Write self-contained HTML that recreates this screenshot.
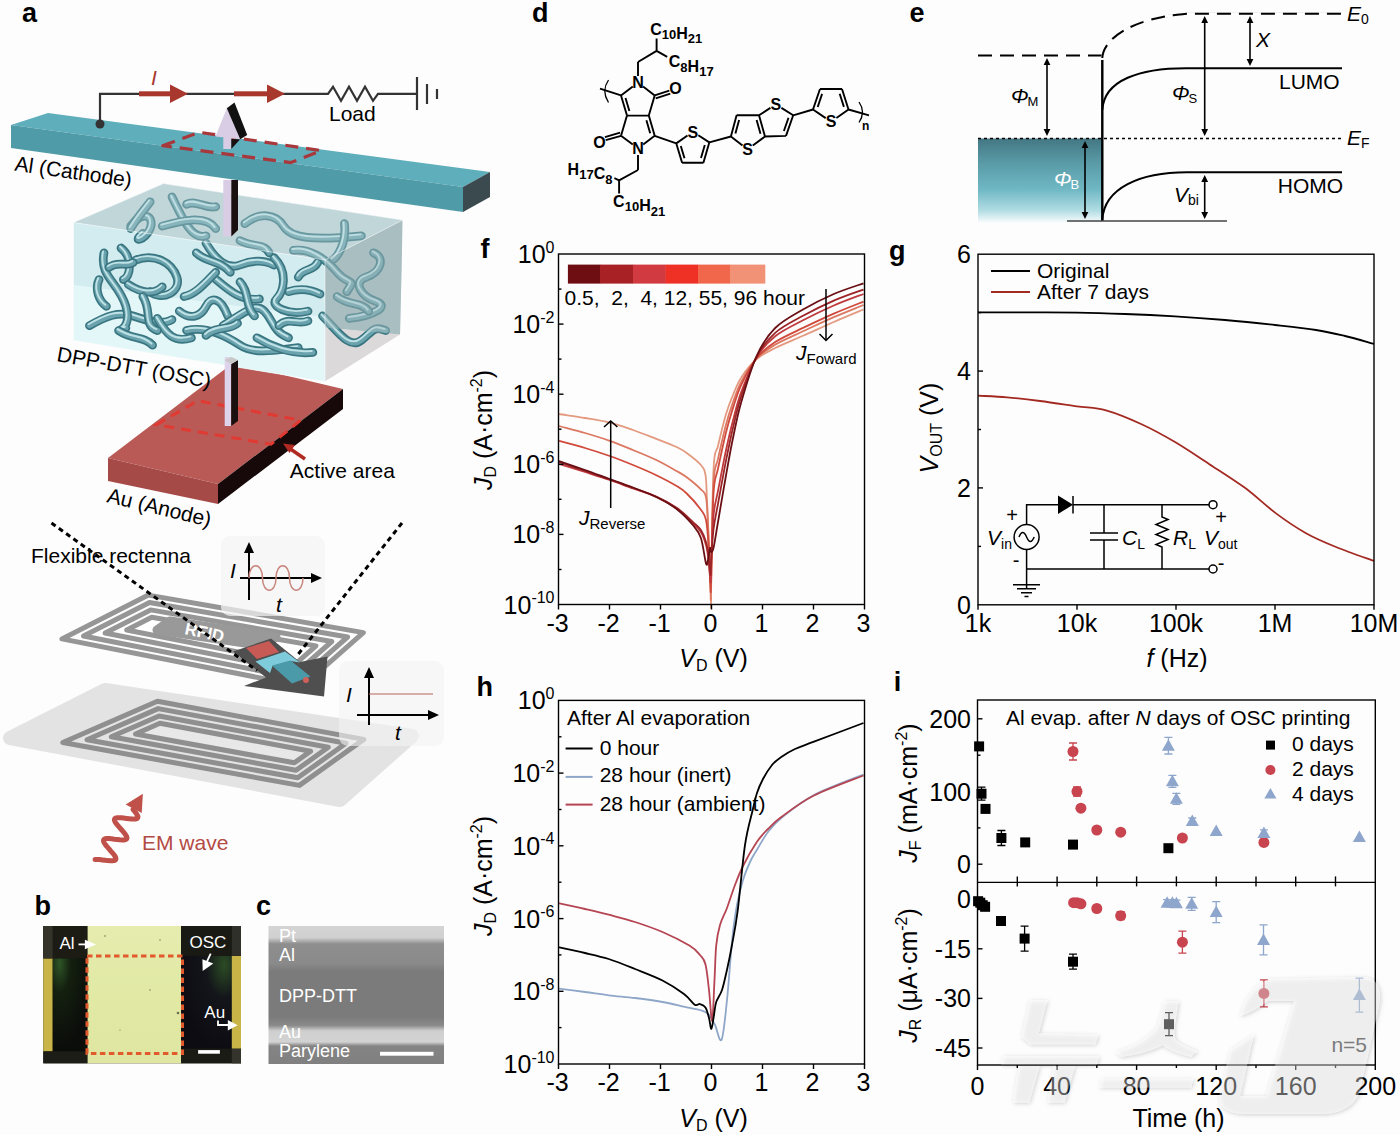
<!DOCTYPE html>
<html><head><meta charset="utf-8"><style>
html,body{margin:0;padding:0;background:#fff;width:1400px;height:1135px;overflow:hidden}
svg{display:block}
</style></head><body>
<svg width="1400" height="1135" viewBox="0 0 1400 1135" font-family='"Liberation Sans", sans-serif'>
<rect width="1400" height="1135" fill="#fdfdfd"/>
<g id="a">
<polygon points="48,113 490,172 463,187 11,125" fill="#5eaebb"/>
<polygon points="11,125 463,187 463,212 11,148" fill="#4f9ba8"/>
<polygon points="463,187 490,172 490,197 463,212" fill="#3b4a4f"/>
<polygon points="162.7,145.7 199.3,132.3 321.2,150.6 291,162.6" fill="none" stroke="#a8383c" stroke-width="3.2" stroke-dasharray="13,8" stroke-linejoin="round"/>
<g stroke="#333" stroke-width="2.2" fill="none">
<path d="M100,124 V93.8 H328 l5,-7 l8,14 l8,-14 l8,14 l8,-14 l8,14 l5,-7 H417"/>
<path d="M417,77 V110 M427,84 V104 M437,89 V99"/>
</g>
<circle cx="100" cy="124" r="4.5" fill="#333"/>
<g fill="#a8382e">
<rect x="139" y="91.3" width="32" height="5"/><polygon points="170,84.5 188,93.8 170,103"/>
<rect x="234" y="91.3" width="34" height="5"/><polygon points="267,84.5 285,93.8 267,103"/>
</g>
<text x="151" y="85" font-size="21" font-style="italic" fill="#a8382e">I</text>
<text x="329" y="121" font-size="21">Load</text>
<polygon points="108,458 233,363 343,389 218,484" fill="#b95a56"/>
<polygon points="108,458 218,484 218,504 108,481" fill="#a64a48"/>
<polygon points="218,484 343,389 343,409 218,504" fill="#170909"/>
<polygon points="156.4,424.7 197.6,400.7 300.7,420.2 271,444.2" fill="none" stroke="#e03a32" stroke-width="3" stroke-dasharray="10,7"/>
<line x1="305" y1="459" x2="289" y2="448" stroke="#b02a22" stroke-width="3.5"/><polygon points="283,443.5 295,445 289.5,453" fill="#b02a22"/>
<text x="289.8" y="477.5" font-size="21">Active area</text>
<polygon points="73.6,222.5 163.5,183.6 402.7,220 325,260" fill="#c0d6d9"/>
<polygon points="325,260 402.7,220 400,334.6 325,327.6" fill="#a9bec2"/><polygon points="325,327.6 400,334.6 325,381.6" fill="#dcd9db"/>
<polygon points="73.6,222.5 325,260 325,381.6 73.6,340.3" fill="#d2ecef"/>
<polygon points="73.6,285 325,317 325,381.6 73.6,340.3" fill="#e3f7f8"/>
<g transform="translate(70,180) scale(0.24284)" fill="none" stroke-linecap="round">
<path d="M80,600 C150,560 200,540 260,560 S380,600 420,575" stroke="#3a7681" stroke-width="36"/>
<path d="M80,600 C150,560 200,540 260,560 S380,600 420,575" stroke="#6aa3ad" stroke-width="22"/>
<path d="M80,600 C150,560 200,540 260,560 S380,600 420,575" stroke="#bfe2e7" stroke-width="8" transform="translate(-4,-6)"/>
<path d="M140,300 C120,400 200,420 230,520 S180,620 230,610" stroke="#3a7681" stroke-width="36"/>
<path d="M140,300 C120,400 200,420 230,520 S180,620 230,610" stroke="#6aa3ad" stroke-width="22"/>
<path d="M140,300 C120,400 200,420 230,520 S180,620 230,610" stroke="#bfe2e7" stroke-width="8" transform="translate(-4,-6)"/>
<path d="M210,280 C260,320 250,400 220,410" stroke="#3a7681" stroke-width="36"/>
<path d="M210,280 C260,320 250,400 220,410" stroke="#6aa3ad" stroke-width="22"/>
<path d="M210,280 C260,320 250,400 220,410" stroke="#bfe2e7" stroke-width="8" transform="translate(-4,-6)"/>
<path d="M270,330 C350,300 420,340 440,400 S380,500 330,460" stroke="#3a7681" stroke-width="36"/>
<path d="M270,330 C350,300 420,340 440,400 S380,500 330,460" stroke="#6aa3ad" stroke-width="22"/>
<path d="M270,330 C350,300 420,340 440,400 S380,500 330,460" stroke="#bfe2e7" stroke-width="8" transform="translate(-4,-6)"/>
<path d="M250,190 C300,120 350,150 330,200 S250,260 300,220" stroke="#3a7681" stroke-width="36"/>
<path d="M250,190 C300,120 350,150 330,200 S250,260 300,220" stroke="#6aa3ad" stroke-width="22"/>
<path d="M250,190 C300,120 350,150 330,200 S250,260 300,220" stroke="#bfe2e7" stroke-width="8" transform="translate(-4,-6)"/>
<path d="M420,70 C460,150 500,250 560,230" stroke="#3a7681" stroke-width="36"/>
<path d="M420,70 C460,150 500,250 560,230" stroke="#6aa3ad" stroke-width="22"/>
<path d="M420,70 C460,150 500,250 560,230" stroke="#bfe2e7" stroke-width="8" transform="translate(-4,-6)"/>
<path d="M380,190 C450,170 560,140 600,200" stroke="#3a7681" stroke-width="36"/>
<path d="M380,190 C450,170 560,140 600,200" stroke="#6aa3ad" stroke-width="22"/>
<path d="M380,190 C450,170 560,140 600,200" stroke="#bfe2e7" stroke-width="8" transform="translate(-4,-6)"/>
<path d="M560,260 C600,330 650,370 700,350 S800,330 840,350" stroke="#3a7681" stroke-width="36"/>
<path d="M560,260 C600,330 650,370 700,350 S800,330 840,350" stroke="#6aa3ad" stroke-width="22"/>
<path d="M560,260 C600,330 650,370 700,350 S800,330 840,350" stroke="#bfe2e7" stroke-width="8" transform="translate(-4,-6)"/>
<path d="M590,400 C650,450 700,500 780,490" stroke="#3a7681" stroke-width="36"/>
<path d="M590,400 C650,450 700,500 780,490" stroke="#6aa3ad" stroke-width="22"/>
<path d="M590,400 C650,450 700,500 780,490" stroke="#bfe2e7" stroke-width="8" transform="translate(-4,-6)"/>
<path d="M450,540 C500,580 540,560 560,520 S620,480 650,560" stroke="#3a7681" stroke-width="36"/>
<path d="M450,540 C500,580 540,560 560,520 S620,480 650,560" stroke="#6aa3ad" stroke-width="22"/>
<path d="M450,540 C500,580 540,560 560,520 S620,480 650,560" stroke="#bfe2e7" stroke-width="8" transform="translate(-4,-6)"/>
<path d="M480,620 C560,600 640,640 700,680 S850,700 940,690" stroke="#3a7681" stroke-width="36"/>
<path d="M480,620 C560,600 640,640 700,680 S850,700 940,690" stroke="#6aa3ad" stroke-width="22"/>
<path d="M480,620 C560,600 640,640 700,680 S850,700 940,690" stroke="#bfe2e7" stroke-width="8" transform="translate(-4,-6)"/>
<path d="M630,600 C700,560 760,500 800,540 S830,620 900,650" stroke="#3a7681" stroke-width="36"/>
<path d="M630,600 C700,560 760,500 800,540 S830,620 900,650" stroke="#6aa3ad" stroke-width="22"/>
<path d="M630,600 C700,560 760,500 800,540 S830,620 900,650" stroke="#bfe2e7" stroke-width="8" transform="translate(-4,-6)"/>
<path d="M840,320 C900,380 880,460 850,490 S900,560 980,540" stroke="#3a7681" stroke-width="36"/>
<path d="M840,320 C900,380 880,460 850,490 S900,560 980,540" stroke="#6aa3ad" stroke-width="22"/>
<path d="M840,320 C900,380 880,460 850,490 S900,560 980,540" stroke="#bfe2e7" stroke-width="8" transform="translate(-4,-6)"/>
<path d="M900,460 C960,440 1010,460 1030,470" stroke="#3a7681" stroke-width="36"/>
<path d="M900,460 C960,440 1010,460 1030,470" stroke="#6aa3ad" stroke-width="22"/>
<path d="M900,460 C960,440 1010,460 1030,470" stroke="#bfe2e7" stroke-width="8" transform="translate(-4,-6)"/>
<path d="M720,180 C780,130 850,140 880,190 S1000,250 1200,230" stroke="#3a7681" stroke-width="36"/>
<path d="M720,180 C780,130 850,140 880,190 S1000,250 1200,230" stroke="#6aa3ad" stroke-width="22"/>
<path d="M720,180 C780,130 850,140 880,190 S1000,250 1200,230" stroke="#bfe2e7" stroke-width="8" transform="translate(-4,-6)"/>
<path d="M1130,180 C1140,260 1100,320 1080,330" stroke="#3a7681" stroke-width="36"/>
<path d="M1130,180 C1140,260 1100,320 1080,330" stroke="#6aa3ad" stroke-width="22"/>
<path d="M1130,180 C1140,260 1100,320 1080,330" stroke="#bfe2e7" stroke-width="8" transform="translate(-4,-6)"/>
<path d="M920,290 C980,280 1050,320 1100,380 S1180,400 1140,460" stroke="#3a7681" stroke-width="36"/>
<path d="M920,290 C980,280 1050,320 1100,380 S1180,400 1140,460" stroke="#6aa3ad" stroke-width="22"/>
<path d="M920,290 C980,280 1050,320 1100,380 S1180,400 1140,460" stroke="#bfe2e7" stroke-width="8" transform="translate(-4,-6)"/>
<path d="M1250,300 C1300,320 1280,380 1220,400 S1200,480 1260,500 S1250,560 1150,570" stroke="#3a7681" stroke-width="36"/>
<path d="M1250,300 C1300,320 1280,380 1220,400 S1200,480 1260,500 S1250,560 1150,570" stroke="#6aa3ad" stroke-width="22"/>
<path d="M1250,300 C1300,320 1280,380 1220,400 S1200,480 1260,500 S1250,560 1150,570" stroke="#bfe2e7" stroke-width="8" transform="translate(-4,-6)"/>
<path d="M1040,560 C1100,620 1150,700 1200,660 S1250,600 1300,620" stroke="#3a7681" stroke-width="36"/>
<path d="M1040,560 C1100,620 1150,700 1200,660 S1250,600 1300,620" stroke="#6aa3ad" stroke-width="22"/>
<path d="M1040,560 C1100,620 1150,700 1200,660 S1250,600 1300,620" stroke="#bfe2e7" stroke-width="8" transform="translate(-4,-6)"/>
<path d="M770,650 C820,680 900,720 1000,710" stroke="#3a7681" stroke-width="36"/>
<path d="M770,650 C820,680 900,720 1000,710" stroke="#6aa3ad" stroke-width="22"/>
<path d="M770,650 C820,680 900,720 1000,710" stroke="#bfe2e7" stroke-width="8" transform="translate(-4,-6)"/>
<path d="M120,410 C100,450 120,500 150,520" stroke="#3a7681" stroke-width="36"/>
<path d="M120,410 C100,450 120,500 150,520" stroke="#6aa3ad" stroke-width="22"/>
<path d="M120,410 C100,450 120,500 150,520" stroke="#bfe2e7" stroke-width="8" transform="translate(-4,-6)"/>
<path d="M330,90 C300,130 280,150 250,200" stroke="#3a7681" stroke-width="36"/>
<path d="M330,90 C300,130 280,150 250,200" stroke="#6aa3ad" stroke-width="22"/>
<path d="M330,90 C300,130 280,150 250,200" stroke="#bfe2e7" stroke-width="8" transform="translate(-4,-6)"/>
<path d="M240,430 C300,470 350,470 380,440" stroke="#3a7681" stroke-width="36"/>
<path d="M240,430 C300,470 350,470 380,440" stroke="#6aa3ad" stroke-width="22"/>
<path d="M240,430 C300,470 350,470 380,440" stroke="#bfe2e7" stroke-width="8" transform="translate(-4,-6)"/>
<path d="M360,570 C400,640 430,670 500,650" stroke="#3a7681" stroke-width="36"/>
<path d="M360,570 C400,640 430,670 500,650" stroke="#6aa3ad" stroke-width="22"/>
<path d="M360,570 C400,640 430,670 500,650" stroke="#bfe2e7" stroke-width="8" transform="translate(-4,-6)"/>
<path d="M600,380 C560,420 520,470 470,480" stroke="#3a7681" stroke-width="36"/>
<path d="M600,380 C560,420 520,470 470,480" stroke="#6aa3ad" stroke-width="22"/>
<path d="M600,380 C560,420 520,470 470,480" stroke="#bfe2e7" stroke-width="8" transform="translate(-4,-6)"/>
<path d="M700,250 C760,280 800,260 820,300" stroke="#3a7681" stroke-width="36"/>
<path d="M700,250 C760,280 800,260 820,300" stroke="#6aa3ad" stroke-width="22"/>
<path d="M700,250 C760,280 800,260 820,300" stroke="#bfe2e7" stroke-width="8" transform="translate(-4,-6)"/>
<path d="M300,480 C340,540 300,600 360,620" stroke="#3a7681" stroke-width="36"/>
<path d="M300,480 C340,540 300,600 360,620" stroke="#6aa3ad" stroke-width="22"/>
<path d="M300,480 C340,540 300,600 360,620" stroke="#bfe2e7" stroke-width="8" transform="translate(-4,-6)"/>
<path d="M520,300 C560,340 620,330 660,380" stroke="#3a7681" stroke-width="36"/>
<path d="M520,300 C560,340 620,330 660,380" stroke="#6aa3ad" stroke-width="22"/>
<path d="M520,300 C560,340 620,330 660,380" stroke="#bfe2e7" stroke-width="8" transform="translate(-4,-6)"/>
<path d="M700,420 C740,460 720,520 760,560" stroke="#3a7681" stroke-width="36"/>
<path d="M700,420 C740,460 720,520 760,560" stroke="#6aa3ad" stroke-width="22"/>
<path d="M700,420 C740,460 720,520 760,560" stroke="#bfe2e7" stroke-width="8" transform="translate(-4,-6)"/>
<path d="M160,360 C200,330 230,360 260,340" stroke="#3a7681" stroke-width="36"/>
<path d="M160,360 C200,330 230,360 260,340" stroke="#6aa3ad" stroke-width="22"/>
<path d="M160,360 C200,330 230,360 260,340" stroke="#bfe2e7" stroke-width="8" transform="translate(-4,-6)"/>
<path d="M940,400 C960,360 1000,380 1020,340" stroke="#3a7681" stroke-width="36"/>
<path d="M940,400 C960,360 1000,380 1020,340" stroke="#6aa3ad" stroke-width="22"/>
<path d="M940,400 C960,360 1000,380 1020,340" stroke="#bfe2e7" stroke-width="8" transform="translate(-4,-6)"/>
<path d="M1100,480 C1150,520 1200,500 1230,540" stroke="#3a7681" stroke-width="36"/>
<path d="M1100,480 C1150,520 1200,500 1230,540" stroke="#6aa3ad" stroke-width="22"/>
<path d="M1100,480 C1150,520 1200,500 1230,540" stroke="#bfe2e7" stroke-width="8" transform="translate(-4,-6)"/>
<path d="M560,640 C600,600 660,620 690,590" stroke="#3a7681" stroke-width="36"/>
<path d="M560,640 C600,600 660,620 690,590" stroke="#6aa3ad" stroke-width="22"/>
<path d="M560,640 C600,600 660,620 690,590" stroke="#bfe2e7" stroke-width="8" transform="translate(-4,-6)"/>
<path d="M200,620 C260,660 300,640 340,680" stroke="#3a7681" stroke-width="36"/>
<path d="M200,620 C260,660 300,640 340,680" stroke="#6aa3ad" stroke-width="22"/>
<path d="M200,620 C260,660 300,640 340,680" stroke="#bfe2e7" stroke-width="8" transform="translate(-4,-6)"/>
<path d="M860,600 C900,560 940,600 980,580" stroke="#3a7681" stroke-width="36"/>
<path d="M860,600 C900,560 940,600 980,580" stroke="#6aa3ad" stroke-width="22"/>
<path d="M860,600 C900,560 940,600 980,580" stroke="#bfe2e7" stroke-width="8" transform="translate(-4,-6)"/>
<path d="M480,100 C520,80 560,120 600,110" stroke="#3a7681" stroke-width="36"/>
<path d="M480,100 C520,80 560,120 600,110" stroke="#6aa3ad" stroke-width="22"/>
<path d="M480,100 C520,80 560,120 600,110" stroke="#bfe2e7" stroke-width="8" transform="translate(-4,-6)"/>
</g>
<polygon points="73.6,222.5 163.5,183.6 402.7,220 325,260" fill="#c0d6d9" fill-opacity="0.35"/>
<polygon points="325,260 402.7,220 400,334.6 325,327.6" fill="#a9bec2" fill-opacity="0.45"/>
<g stroke="#ffffff" stroke-opacity="0.5" stroke-width="1" fill="none"><polyline points="73.6,340.3 73.6,222.5 163.5,183.6 402.7,220 402.7,339 325,381.6 73.6,340.3"/><polyline points="73.6,222.5 325,260 402.7,220 M325,260"/><line x1="325" y1="260" x2="325" y2="381.6"/></g>
<rect x="223.3" y="180" width="8" height="56.5" fill="#d9cde6"/>
<polygon points="231.3,180 238,180 238,230 231.3,236.5" fill="#1a1010"/>
<rect x="223.3" y="136" width="8" height="13" fill="#d9cde6"/>
<polygon points="231.3,139 240.2,139.3 231.3,149" fill="#1a1010"/>
<polygon points="226.8,108.3 215.5,136.5 240.2,139.3" fill="#d9cde6"/>
<polygon points="226.8,108.3 234.5,102.4 247.2,135 240.2,139.3" fill="#111"/>
<rect x="224.7" y="357" width="6.5" height="69" fill="#ddd3ea"/>
<polygon points="231.2,364 238,360 238,421 231.2,426" fill="#1a1010"/>
<polygon points="224.7,360 231.2,364 238,360 231.5,357" fill="#c8c8c8"/>
<text transform="translate(14,170.5) rotate(8.2)" font-size="21">Al (Cathode)</text>
<text transform="translate(56,361) rotate(10)" font-size="21">DPP-DTT (OSC)</text>
<text transform="translate(106,502) rotate(13.5)" font-size="21">Au (Anode)</text>
<polygon points="10,738 105,690 412,736 340,800" fill="#e3e3e3" stroke="#e3e3e3" stroke-width="14" stroke-linejoin="round"/>
<polygon points="144,733 160.2,725.9 304.3,752.6 293.8,760.1" fill="#e8e8e8"/>
<polygon points="62.8,742.5 157.4,701.2 363.8,739.4 299.4,785.4" fill="none" stroke="#8f8f8f" stroke-width="5.0" stroke-linejoin="round"/>
<polygon points="87,739.7 158.2,708.6 346,743.3 297.7,777.8" fill="none" stroke="#8f8f8f" stroke-width="5.0" stroke-linejoin="round"/>
<polygon points="111.3,736.8 159.1,716 328.3,747.3 296,770.3" fill="none" stroke="#8f8f8f" stroke-width="5.0" stroke-linejoin="round"/>
<polygon points="135.5,734 159.9,723.3 310.6,751.2 294.3,762.8" fill="none" stroke="#8f8f8f" stroke-width="5.0" stroke-linejoin="round"/>
<polygon points="134.3,628.9 152.1,619.9 310.4,647.5 295.4,660.7" fill="#ffffff"/>
<polygon points="61.9,638.9 148.4,595.1 363.4,632.6 302.3,686.3" fill="none" stroke="#969696" stroke-width="5.0" stroke-linejoin="round"/>
<polygon points="83.5,636 149.5,602.5 347.6,637 300.2,678.7" fill="none" stroke="#969696" stroke-width="5.0" stroke-linejoin="round"/>
<polygon points="105.1,633 150.6,609.9 331.8,641.5 298.2,671" fill="none" stroke="#969696" stroke-width="5.0" stroke-linejoin="round"/>
<polygon points="126.7,630 151.7,617.3 316,645.9 296.1,663.4" fill="none" stroke="#969696" stroke-width="5.0" stroke-linejoin="round"/>
<polygon points="157,630 170,621 276,637 264,646" fill="#999999" stroke="#999999" stroke-width="9" stroke-linejoin="round"/>
<text transform="translate(184,634) rotate(12)" font-size="17" font-weight="bold" fill="#fff">RFID</text>
<polygon points="233,651.5 271,638.5 300,662 327.5,656.5 324,696.5 244,686 266,677.5" fill="#4f4f4f"/>
<polygon points="246,648 269,641 279,652 257,659" fill="#c85a55"/>
<polygon points="255.5,661.5 285,651.5 300,662.5 290.5,661 272.5,666 270,673" fill="#7ecbdb"/>
<polygon points="272,665.5 290.5,660.5 310.5,676.5 292,683.5" fill="#4b9aaa"/>
<circle cx="306" cy="680" r="3" fill="#d0605a"/>
<g stroke="#000" stroke-width="3" stroke-dasharray="5,4" fill="none"><line x1="51.5" y1="523" x2="257" y2="670.5"/><line x1="402" y1="523" x2="296" y2="657"/></g>
<text x="31" y="563" font-size="21">Flexible rectenna</text>
<rect x="221" y="536" width="104" height="80" rx="9" fill="#f3f3f3" fill-opacity="0.7"/>
<g stroke="#000" stroke-width="2" fill="none"><line x1="249" y1="547" x2="249" y2="600"/><line x1="240" y1="578" x2="316" y2="578"/></g>
<polygon points="249,542 244,553 254,553" fill="#000"/><polygon points="322,578 311,573 311,583" fill="#000"/>
<path d="M249,578 C249,561.6 262.5,561.6 262.5,578 C262.5,594.4 276,594.4 276,578 C276,561.6 289.5,561.6 289.5,578 C289.5,594.4 303,594.4 303,578" stroke="#c8857c" stroke-width="1.5" fill="none"/>
<text x="230" y="578" font-size="21" font-style="italic">I</text><text x="276" y="612" font-size="21" font-style="italic">t</text>
<rect x="339" y="661" width="105" height="85" rx="9" fill="#f3f3f3" fill-opacity="0.6"/>
<g stroke="#000" stroke-width="2" fill="none"><line x1="369" y1="672" x2="369" y2="725"/><line x1="357" y1="715" x2="433" y2="715"/></g>
<polygon points="369,667 364,678 374,678 " fill="#000"/><polygon points="439,715 428,710 428,720" fill="#000"/>
<line x1="369" y1="694" x2="433" y2="694" stroke="#b8625c" stroke-width="1.2"/>
<text x="346" y="702" font-size="21" font-style="italic">I</text><text x="395" y="740" font-size="21" font-style="italic">t</text>
<path d="M95.1,859.5 L97.1,859.5 L99.6,859.6 L102.2,859.9 L105.1,860.2 L107.8,860.6 L110.4,860.8 L112.6,860.8 L114.3,860.6 L115.4,860.0 L115.9,859.2 L115.8,858.0 L115.2,856.5 L114.0,854.8 L112.4,852.8 L110.6,850.8 L108.8,848.6 L107.0,846.6 L105.4,844.6 L104.2,842.9 L103.6,841.4 L103.5,840.2 L104.0,839.4 L105.1,838.8 L106.8,838.6 L109.0,838.6 L111.6,838.8 L114.3,839.2 L117.2,839.5 L119.8,839.8 L122.3,839.9 L124.3,839.9 L125.8,839.5 L126.7,838.9 L127.0,837.9 L126.6,836.6 L125.7,835.0 L124.4,833.1 L122.7,831.1 L120.9,829.0 L119.0,826.9 L117.3,824.9 L115.8,823.0 L114.9,821.4 L114.4,820.0 L114.6,818.9 L115.3,818.2 L116.7,817.8 L118.6,817.7 L121.0,817.8 L123.6,818.1 L126.4,818.4 L129.2,818.7 L131.8,819.0 L134.1,819.0 L135.9,818.9 L137.2,818.4 L137.8,817.6 L137.9,816.5 L137.3,815.1 L136.2,813.4 L134.7,811.5 L133.0,809.4 L136.5,806.0" stroke="#c0504a" stroke-width="5" fill="none" stroke-linecap="round" stroke-linejoin="round"/>
<polygon points="125.7,804.6 142.9,793.7 141.7,813" fill="#c0504a"/>
<text x="142" y="849.5" font-size="21" fill="#b44a44">EM wave</text>
</g>
<g id="b">
<defs>
<radialGradient id="bdarkL" cx="0.2" cy="0.05" r="0.9"><stop offset="0" stop-color="#2f5527"/><stop offset="0.35" stop-color="#14200f"/><stop offset="1" stop-color="#0b0d0a"/></radialGradient>
<radialGradient id="bdarkR" cx="0.85" cy="0.1" r="0.9"><stop offset="0" stop-color="#2c4c25"/><stop offset="0.4" stop-color="#13151a"/><stop offset="1" stop-color="#0d0c12"/></radialGradient>
<linearGradient id="byel" x1="0" y1="0" x2="0" y2="1"><stop offset="0" stop-color="#e6ecae"/><stop offset="0.5" stop-color="#e1e9a5"/><stop offset="1" stop-color="#dfe6a2"/></linearGradient>
<linearGradient id="cgrad" x1="0" y1="0" x2="0" y2="1">
<stop offset="0" stop-color="#d4d4d4"/><stop offset="0.085" stop-color="#d0d0d0"/><stop offset="0.13" stop-color="#8e8e8e"/><stop offset="0.27" stop-color="#8a8a8a"/>
<stop offset="0.33" stop-color="#7b7b7b"/><stop offset="0.66" stop-color="#7b7b7b"/><stop offset="0.72" stop-color="#8a8a8a"/><stop offset="0.76" stop-color="#cfcfcf"/>
<stop offset="0.84" stop-color="#d3d3d3"/><stop offset="0.87" stop-color="#848484"/><stop offset="1" stop-color="#808080"/></linearGradient>
</defs>
<rect x="43.3" y="926" width="197.7" height="137.3" fill="#14150f"/>
<rect x="52.5" y="958.3" width="35.1" height="93.1" fill="url(#bdarkL)"/>
<rect x="181" y="955.7" width="50.8" height="93.1" fill="url(#bdarkR)"/>
<rect x="43.3" y="958.3" width="9.2" height="93.1" fill="#c9b547"/>
<rect x="231.8" y="955.7" width="9.2" height="93.1" fill="#c9b547"/>
<rect x="43.3" y="926" width="44.3" height="32.3" fill="#1c1c15"/>
<rect x="43.3" y="926" width="9.2" height="32.3" fill="#34342a"/>
<rect x="181" y="926" width="60" height="29.7" fill="#1a1a14"/>
<rect x="231.8" y="926" width="9.2" height="29.7" fill="#30302a"/>
<rect x="43.3" y="1051.4" width="44.3" height="11.9" fill="#1d1d17"/>
<rect x="181" y="1048.8" width="60" height="14.5" fill="#1b1b16"/>
<rect x="231.8" y="1048.8" width="9.2" height="14.5" fill="#34342c"/>
<rect x="87.6" y="926" width="93.4" height="137.3" fill="url(#byel)"/>
<g fill="#3a3a2a" opacity="0.7"><circle cx="105" cy="936" r="0.8"/><circle cx="150" cy="990" r="0.7"/><circle cx="178" cy="1013" r="1.3"/><circle cx="120" cy="1030" r="0.6"/><circle cx="160" cy="940" r="0.7"/></g>
<rect x="87" y="956" width="95.5" height="97.4" fill="none" stroke="#e25a2c" stroke-width="3" stroke-dasharray="5.5,3.5"/>
<text x="59.5" y="949" font-size="17" fill="#fff">Al</text>
<line x1="78.5" y1="944.4" x2="86" y2="944.4" stroke="#fff" stroke-width="1.8"/><polygon points="84.9,939.8 96.1,944.4 84.9,949.2" fill="#fff"/>
<text x="189.5" y="948.4" font-size="17" fill="#fff">OSC</text>
<line x1="210.7" y1="953.7" x2="206" y2="963.6" stroke="#fff" stroke-width="1.8"/><polygon points="202.7,970.9 202.4,959.2 213.3,963.6" fill="#fff"/>
<text x="204.3" y="1017.8" font-size="17" fill="#fff">Au</text>
<path d="M218,1020.5 V1025 H228.5" stroke="#fff" stroke-width="1.8" fill="none"/><polygon points="227.8,1020 237.7,1025.3 227.8,1030.6" fill="#fff"/>
<rect x="198.1" y="1050.1" width="21.8" height="3.6" fill="#fff"/>
<rect x="268.5" y="926" width="175.5" height="138" fill="url(#cgrad)"/>
<text x="279" y="941.5" font-size="18" fill="#fff">Pt</text>
<text x="279" y="961" font-size="18" fill="#fff">Al</text>
<text x="279" y="1001.5" font-size="18" fill="#fff">DPP-DTT</text>
<text x="279" y="1038" font-size="18" fill="#fff">Au</text>
<text x="279" y="1057" font-size="18" fill="#fff">Parylene</text>
<rect x="380" y="1051.8" width="53.5" height="3.9" fill="#fff"/>
</g>
<g id="d" stroke="#000" stroke-width="1.9" fill="none" stroke-linecap="butt">
<path d="M621,95.4 L632.8,86.4 M643.1,86.5 L654.7,95.4 M654.7,95.4 L648.8,115.6 M627,115.6 L648.8,115.6 M627,115.6 L621,135.8 M621,135.8 L632.8,144.6 M643.2,144.6 L654.7,135.8 M621,95.4 L627,115.6 M648.8,115.6 L654.7,135.8 M654.7,95.4 L669.3,90.6 M621,135.8 L605.7,140.2 M638,76 L638,62 M638,62 L656.6,50.9 M656.6,50.9 L656.6,38.5 M656.6,50.9 L667.2,56.8 M638,155 L638,170 M638,170 L619.1,180.3 M619.1,180.3 L619.1,193.5 M619.1,180.3 L614.4,178.2 M654.7,135.8 L676.3,143.4 M676.3,143.4 L687.5,135.5 M698.3,135.3 L709.3,142.4 M709.3,142.4 L703.4,162.8 M703.4,162.8 L682.1,162.8 M682.1,162.8 L676.3,143.4 M709.3,142.4 L730.9,136.5 M730.9,136.5 L742.5,145.4 M752.8,145.5 L765,136.5 M765,136.5 L759,115.3 M759,115.3 L736.6,115.3 M736.6,115.3 L730.9,136.5 M759,115.3 L770.4,107.9 M781.4,107.9 L793.2,115.3 M793.2,115.3 L786,135.9 M786,135.9 L765,136.5 M793.2,115.3 L813,109.5 M813,109.5 L820,89 M820,89 L842,89 M842,89 L848.5,109.5 M848.5,109.5 L836.4,118 M825.7,118.1 L813,109.5 M848.5,109.5 L869,115.3 M600,88.6 L621,95.4 M625.5,98 L629.4,110.9 M646.4,120.2 L650.2,133.2 M680.8,145.9 L684.5,158.3 M701,158.1 L704.8,145.1 M735.4,133.6 L739.1,120.1 M756.6,120.1 L760.5,133.7 M788.5,117.8 L783.9,131 M817.7,107 L822.1,93.9 M839.7,93.8 L843.9,106.9 M655.7,98.4 L670.3,93.7 M620.1,132.7 L604.9,137.1"/>
<path d="M608.5,80 Q601,91 608.5,102.5" stroke-width="1.3"/>
<path d="M859,102 Q866,112 859,122.5" stroke-width="1.3"/>
</g>
<text x="638" y="88.2" font-size="16" font-weight="bold" text-anchor="middle">N</text>
<text x="638" y="154.2" font-size="16" font-weight="bold" text-anchor="middle">N</text>
<text x="675.5" y="94.3" font-size="16" font-weight="bold" text-anchor="middle">O</text>
<text x="599.5" y="147.7" font-size="16" font-weight="bold" text-anchor="middle">O</text>
<text x="692.8" y="137.5" font-size="16" font-weight="bold" text-anchor="middle">S</text>
<text x="747.6" y="155.1" font-size="16" font-weight="bold" text-anchor="middle">S</text>
<text x="775.9" y="110.1" font-size="16" font-weight="bold" text-anchor="middle">S</text>
<text x="831.1" y="127.4" font-size="16" font-weight="bold" text-anchor="middle">S</text>
<text x="650.2" y="34.6" font-size="16" font-weight="bold"><tspan>C</tspan><tspan font-size="13" dy="4.3">10</tspan><tspan dy="-4.3"></tspan><tspan>H</tspan><tspan font-size="13" dy="4.3">21</tspan><tspan dy="-4.3"></tspan></text>
<text x="668.8" y="67.4" font-size="16" font-weight="bold"><tspan>C</tspan><tspan font-size="13" dy="4.3">8</tspan><tspan dy="-4.3"></tspan><tspan>H</tspan><tspan font-size="13" dy="4.3">17</tspan><tspan dy="-4.3"></tspan></text>
<text x="567.6" y="175.1" font-size="16" font-weight="bold"><tspan>H</tspan><tspan font-size="13" dy="4.3">17</tspan><tspan dy="-4.3"></tspan><tspan>C</tspan><tspan font-size="13" dy="4.3">8</tspan><tspan dy="-4.3"></tspan></text>
<text x="613.1" y="206.9" font-size="16" font-weight="bold"><tspan>C</tspan><tspan font-size="13" dy="4.3">10</tspan><tspan dy="-4.3"></tspan><tspan>H</tspan><tspan font-size="13" dy="4.3">21</tspan><tspan dy="-4.3"></tspan></text>
<text x="862" y="129.5" font-size="12" font-weight="bold">n</text>
<g id="e">
<defs><linearGradient id="metal" x1="0" y1="0" x2="0" y2="1"><stop offset="0" stop-color="#437783"/><stop offset="0.3" stop-color="#5a9ca8"/><stop offset="0.6" stop-color="#6fb8c4"/><stop offset="0.85" stop-color="#b2dde4"/><stop offset="1" stop-color="#ffffff"/></linearGradient></defs>
<rect x="978" y="138.5" width="124" height="85" fill="url(#metal)"/>
<g stroke="#000" stroke-width="2" fill="none">
<path d="M978,55.5 H1102" stroke-dasharray="14,8"/>
<path d="M1102.3,221 V60 C1103,40 1130,18 1187,13.8 H1342" stroke-dasharray="none"/>
</g>
<path d="M1102.3,60 C1103,40 1130,18 1187,13.8 H1342" stroke="#fff" stroke-width="3" fill="none" stroke-dasharray="0,0"/>
<path d="M1102.3,58 C1103,40 1130,18 1187,13.8 H1342" stroke="#000" stroke-width="2" fill="none" stroke-dasharray="14,8"/>
<g stroke="#000" stroke-width="2" fill="none">
<path d="M1102.3,60 V221"/>
<path d="M1102.3,110 C1104,80 1140,68 1187,68.2 H1342"/>
<path d="M1102.3,220 C1104,188 1140,172.3 1187,172.3 H1342"/>
<path d="M978,138.5 H1342" stroke-width="1.6" stroke-dasharray="3,3"/>
<path d="M1067,221 H1227" stroke="#444" stroke-width="1.6"/>
</g>
<g stroke="#000" stroke-width="1.6" fill="none">
<path d="M1047,61 V133"/><path d="M1043.6,65 L1047,58 L1050.4,65 Z M1043.6,129 L1047,136 L1050.4,129 Z" fill="#000" stroke="none"/>
<path d="M1085,144 V216"/><path d="M1081.6,148 L1085,141 L1088.4,148 Z M1081.6,212 L1085,219 L1088.4,212 Z" fill="#000" stroke="none"/>
<path d="M1204.7,19 V133"/><path d="M1201.3,23 L1204.7,16 L1208.1,23 Z M1201.3,129 L1204.7,136 L1208.1,129 Z" fill="#000" stroke="none"/>
<path d="M1250,19 V63"/><path d="M1246.6,23 L1250,16 L1253.4,23 Z M1246.6,59 L1250,66 L1253.4,59 Z" fill="#000" stroke="none"/>
<path d="M1204.7,178 V216"/><path d="M1201.3,182 L1204.7,175 L1208.1,182 Z M1201.3,212 L1204.7,219 L1208.1,212 Z" fill="#000" stroke="none"/>
</g>
<text x="1011" y="102.5" font-size="21" font-style="italic">Φ<tspan font-size="13" font-style="normal" dy="3" dx="-1">M</tspan></text>
<text x="1054" y="186" font-size="21" font-style="italic" fill="#fff">Φ<tspan font-size="13" font-style="normal" dy="3" dx="-1">B</tspan></text>
<text x="1172" y="100" font-size="21" font-style="italic">Φ<tspan font-size="13" font-style="normal" dy="3" dx="-1">S</tspan></text>
<text x="1256" y="46.5" font-size="21" font-style="italic">X</text>
<text x="1174" y="201.5" font-size="21" font-style="italic">V<tspan font-size="14" font-style="normal" dy="3">bi</tspan></text>
<text x="1347" y="20.5" font-size="21" font-style="italic">E<tspan font-size="14" font-style="normal" dy="3">0</tspan></text>
<text x="1347" y="144.5" font-size="21" font-style="italic">E<tspan font-size="14" font-style="normal" dy="3">F</tspan></text>
<text x="1279" y="88.6" font-size="21">LUMO</text>
<text x="1277.8" y="193" font-size="21">HOMO</text>
</g>
<g id="f">
<path d="M559,414 C563.3,414.7 576.5,416.6 585,418 C593.5,419.4 601.7,420.6 609.7,422.6 C617.7,424.6 625.2,427.3 633,430 C640.8,432.7 649,436 656.3,438.8 C663.6,441.6 671.5,444.6 676.6,447 C681.7,449.4 682.7,450 686.7,453 C690.8,456 697.8,461.3 700.9,465 C704,468.7 704.5,469.2 705.5,475 C706.5,480.8 706.4,488.3 707,500 C707.6,511.7 708.3,528.9 709,545 C709.7,561.1 710.7,588.3 711,596.8 C711.3,605.3 710.6,617.1 711,596 C711.4,574.9 712.3,495 713.5,470 C714.7,445 715.9,455.3 718,446 C720.1,436.7 723.4,422.9 725.9,414.4 C728.4,405.9 730.4,401.2 733,395 C735.6,388.8 737.3,383.4 741.3,377.4 C745.2,371.4 751.1,363.9 756.7,359 C762.4,354.1 767.5,351.9 775.2,348 C782.9,344.1 793.2,340.1 803,335.8 C812.8,331.5 823.7,326.4 833.8,322 C843.9,317.6 858.5,311.6 863.5,309.5" fill="none" stroke="#e39a80" stroke-width="1.8"/>
<path d="M559,426 C563.3,427.2 576.5,430.5 585,433 C593.5,435.5 601.7,438 609.7,440.8 C617.7,443.6 625.2,446.8 633,450 C640.8,453.2 649,456.5 656.3,460 C663.6,463.5 671.5,468.1 676.6,471 C681.7,473.9 682.7,474.2 686.7,477.3 C690.8,480.4 697.7,486.1 700.9,489.4 C704.1,492.7 704.8,491.1 706,497 C707.2,502.9 707.2,509.5 708,525 C708.8,540.5 710,579.4 710.5,590 C711,600.6 710.5,606.3 711,588.5 C711.5,570.7 712.3,504.9 713.5,483.3 C714.7,461.7 715.9,468.7 718,458.9 C720.1,449.2 723.4,434.3 725.9,424.9 C728.4,415.4 730.4,409.5 733,402.3 C735.6,395.1 737.3,388.9 741.3,381.6 C745.2,374.3 751.1,364.6 756.7,358.5 C762.4,352.3 767.5,349.1 775.2,344.6 C782.9,340.1 793.2,335.9 803,331.3 C812.8,326.8 823.7,321.6 833.8,317.2 C843.9,312.9 858.5,307.1 863.5,305" fill="none" stroke="#dc7761" stroke-width="1.8"/>
<path d="M559,440.8 C563.3,442 576.5,445.5 585,448 C593.5,450.5 601.7,453.2 609.7,456 C617.7,458.8 625.2,461.8 633,465 C640.8,468.2 649,471.7 656.3,475.2 C663.6,478.7 671.5,482.9 676.6,486 C681.7,489.1 682.7,489.6 686.7,493.5 C690.8,497.4 697.7,505.3 700.9,509.7 C704.1,514.1 704.7,514.1 706,520 C707.3,525.9 707.8,534.2 708.5,545 C709.2,555.8 710.1,578.7 710.5,585 C710.9,591.3 710.5,598.1 711,582.8 C711.5,567.5 712.3,512.4 713.5,493.4 C714.7,474.4 715.9,478.9 718,468.8 C720.1,458.7 723.4,443 725.9,432.9 C728.4,422.7 730.4,415.9 733,407.9 C735.6,399.9 737.3,393.1 741.3,384.8 C745.2,376.5 751.1,365.2 756.7,358 C762.4,350.9 767.5,347 775.2,342 C782.9,337 793.2,332.6 803,327.9 C812.8,323.2 823.7,318 833.8,313.6 C843.9,309.2 858.5,303.6 863.5,301.6" fill="none" stroke="#d04a3c" stroke-width="1.8"/>
<path d="M559,464 C563.3,465.3 576.5,469.3 585,472 C593.5,474.7 601.7,477.2 609.7,480 C617.7,482.8 625.2,485.7 633,488.5 C640.8,491.3 649,493.7 656.3,497 C663.6,500.3 670.5,504.2 676.6,508.5 C682.7,512.8 688.8,519.1 692.8,523 C696.8,526.9 698.7,528.3 700.9,532 C703.1,535.7 704.7,540.3 706,545 C707.3,549.7 707.8,553.8 708.5,560 C709.2,566.2 710.1,580.3 710.5,582 C710.9,583.7 710.5,581 711,570 C711.5,559 712.3,529.2 713.5,516 C714.7,502.8 715.9,501.7 718,490.8 C720.1,480 723.4,462.5 725.9,450.7 C728.4,439 730.4,430.2 733,420.4 C735.6,410.6 737.3,402.5 741.3,391.9 C745.2,381.4 751.1,366.4 756.7,357.1 C762.4,347.8 767.5,342.3 775.2,336.2 C782.9,330.1 793.2,325.4 803,320.3 C812.8,315.2 823.7,309.9 833.8,305.5 C843.9,301.1 858.5,295.9 863.5,294" fill="none" stroke="#bf3a3d" stroke-width="1.8"/>
<path d="M559,462 C563.3,463.5 576.5,468.1 585,471 C593.5,473.9 601.7,476.7 609.7,479.5 C617.7,482.3 625.2,485.2 633,488 C640.8,490.8 649,493.2 656.3,496.5 C663.6,499.8 670.5,503.5 676.6,507.7 C682.7,511.9 688.8,518.1 692.8,521.8 C696.8,525.5 698.7,526.6 700.9,530 C703.1,533.4 704.7,537.7 706,542 C707.3,546.3 707.8,550.5 708.5,556 C709.2,561.5 710.1,573.9 710.5,575 C710.9,576.1 710.5,570.2 711,562.6 C711.5,554.9 712.3,539.1 713.5,529.3 C714.7,519.5 715.9,515.1 718,503.8 C720.1,492.4 723.4,473.9 725.9,461.2 C728.4,448.5 730.4,438.5 733,427.7 C735.6,416.8 737.3,407.9 741.3,396.1 C745.2,384.2 751.1,367.1 756.7,356.6 C762.4,346 767.5,339.6 775.2,332.8 C782.9,326 793.2,321.2 803,315.8 C812.8,310.5 823.7,305.1 833.8,300.7 C843.9,296.3 858.5,291.4 863.5,289.6" fill="none" stroke="#9c2427" stroke-width="1.8"/>
<path d="M559,461 C563.3,462.5 576.5,467 585,470 C593.5,473 601.7,476.1 609.7,479 C617.7,481.9 625.2,484.5 633,487.5 C640.8,490.5 649,493.4 656.3,497 C663.6,500.6 670.5,504.3 676.6,509 C682.7,513.7 688.8,520.2 692.8,525 C696.8,529.8 698.7,531.6 700.9,538 C703.1,544.4 704.8,559.7 706,563.4 C707.2,567.1 707.3,562.6 708,560 C708.7,557.4 709.5,549.3 710,548 C710.5,546.7 710.4,552 711,552 C711.6,552 712.3,553 713.5,548 C714.7,543 715.9,534 718,522 C720.1,510 723.4,490 725.9,476 C728.4,462 730.4,450.3 733,438 C735.6,425.7 737.3,415.7 741.3,402 C745.2,388.3 751.1,368.1 756.7,355.8 C762.4,343.5 767.5,335.7 775.2,328 C782.9,320.3 793.2,315.2 803,309.5 C812.8,303.8 823.7,298.4 833.8,294 C843.9,289.6 858.5,285.1 863.5,283.3" fill="none" stroke="#6a1014" stroke-width="1.8"/>
<g stroke="#000" stroke-width="1.4" fill="none">
<rect x="558.5" y="254" width="306" height="350.5"/>
<line x1="558.5" y1="289.1" x2="561.5" y2="289.1"/>
<line x1="558.5" y1="324.1" x2="563.5" y2="324.1"/>
<line x1="558.5" y1="359.1" x2="561.5" y2="359.1"/>
<line x1="558.5" y1="394.2" x2="563.5" y2="394.2"/>
<line x1="558.5" y1="429.2" x2="561.5" y2="429.2"/>
<line x1="558.5" y1="464.3" x2="563.5" y2="464.3"/>
<line x1="558.5" y1="499.3" x2="561.5" y2="499.3"/>
<line x1="558.5" y1="534.4" x2="563.5" y2="534.4"/>
<line x1="558.5" y1="569.5" x2="561.5" y2="569.5"/>
<line x1="558.5" y1="604.5" x2="558.5" y2="609.5"/>
<line x1="609.5" y1="604.5" x2="609.5" y2="609.5"/>
<line x1="660.5" y1="604.5" x2="660.5" y2="609.5"/>
<line x1="711.5" y1="604.5" x2="711.5" y2="609.5"/>
<line x1="762.5" y1="604.5" x2="762.5" y2="609.5"/>
<line x1="813.5" y1="604.5" x2="813.5" y2="609.5"/>
<line x1="864.5" y1="604.5" x2="864.5" y2="609.5"/>
</g>
<text x="554.5" y="263" font-size="25" text-anchor="end">10<tspan font-size="16" dy="-10.5">0</tspan></text>
<text x="554.5" y="333.1" font-size="25" text-anchor="end">10<tspan font-size="16" dy="-10.5">-2</tspan></text>
<text x="554.5" y="403.2" font-size="25" text-anchor="end">10<tspan font-size="16" dy="-10.5">-4</tspan></text>
<text x="554.5" y="473.3" font-size="25" text-anchor="end">10<tspan font-size="16" dy="-10.5">-6</tspan></text>
<text x="554.5" y="543.4" font-size="25" text-anchor="end">10<tspan font-size="16" dy="-10.5">-8</tspan></text>
<text x="554.5" y="613.5" font-size="25" text-anchor="end">10<tspan font-size="16" dy="-10.5">-10</tspan></text>
<text x="557.5" y="631.5" font-size="25" text-anchor="middle">-3</text>
<text x="608.5" y="631.5" font-size="25" text-anchor="middle">-2</text>
<text x="659.5" y="631.5" font-size="25" text-anchor="middle">-1</text>
<text x="710.5" y="631.5" font-size="25" text-anchor="middle">0</text>
<text x="761.5" y="631.5" font-size="25" text-anchor="middle">1</text>
<text x="812.5" y="631.5" font-size="25" text-anchor="middle">2</text>
<text x="863.5" y="631.5" font-size="25" text-anchor="middle">3</text>
<text x="713.5" y="667" font-size="25" text-anchor="middle"><tspan font-style="italic">V</tspan><tspan font-size="16" dy="4">D</tspan><tspan dy="-4"> (V)</tspan></text>
<rect x="567.9" y="264.6" width="32.4" height="19" fill="#6e0d12"/>
<rect x="600" y="264.6" width="33.3" height="19" fill="#a82225"/>
<rect x="633" y="264.6" width="32.9" height="19" fill="#d13a40"/>
<rect x="665.6" y="264.6" width="32.7" height="19" fill="#ee3124"/>
<rect x="698" y="264.6" width="32.3" height="19" fill="#f0674c"/>
<rect x="730" y="264.6" width="35.3" height="19" fill="#f19276"/>
<text x="564.5" y="305" font-size="21" xml:space="preserve">0.5,  2,  4, 12, 55, 96 hour</text>
<g stroke="#000" stroke-width="1.5" fill="none">
<line x1="610.7" y1="421" x2="610.7" y2="508"/><path d="M604,427 L610.7,421 L617.4,427"/>
<line x1="826" y1="289" x2="826" y2="340"/><path d="M819.5,334 L826,340.5 L832.5,334"/>
</g>
<text x="579" y="525" font-size="21"><tspan font-style="italic">J</tspan><tspan font-size="15" dy="4">Reverse</tspan></text>
<text x="796" y="360" font-size="21"><tspan font-style="italic">J</tspan><tspan font-size="15" dy="4">Foward</tspan></text>
<text transform="translate(492,430) rotate(-90)" font-size="25" text-anchor="middle"><tspan font-style="italic">J</tspan><tspan font-size="16" dy="4">D</tspan><tspan dy="-4"> (A·cm</tspan><tspan font-size="16" dy="-10">-2</tspan><tspan dy="10">)</tspan></text>
</g>
<g id="g">
<path d="M978,312.4 C986.7,312.4 1013.5,312.4 1030,312.4 C1046.5,312.4 1061.2,312.3 1077,312.6 C1092.8,312.9 1108.7,313.4 1125,314 C1141.3,314.6 1158.3,315.4 1175,316.4 C1191.7,317.4 1208.3,318.6 1225,320 C1241.7,321.4 1259.8,323.3 1275,325 C1290.2,326.7 1304.3,328.2 1316,330 C1327.7,331.8 1335.3,333.7 1345,336 C1354.7,338.3 1369.2,342.7 1374,344" fill="none" stroke="#000" stroke-width="1.8"/>
<path d="M978,395.7 C982.8,396 996.7,396.4 1007,397.3 C1017.3,398.2 1028.3,399.5 1040,401 C1051.7,402.5 1066,404.8 1077,406.4 C1088,407.9 1095.2,407.3 1106,410.3 C1116.8,413.3 1130.1,418.9 1141.6,424.2 C1153.1,429.5 1163.8,435.4 1175,442 C1186.2,448.6 1197.4,456.3 1209,463.9 C1220.6,471.5 1233.4,479.4 1244.6,487.6 C1255.8,495.9 1265.8,505.8 1276,513.4 C1286.2,521 1296,527.6 1306,533.2 C1316,538.8 1324.7,542.4 1336,547 C1347.3,551.6 1367.7,558.7 1374,561" fill="none" stroke="#a32a22" stroke-width="1.8"/>
<g stroke="#000" stroke-width="1.4" fill="none">
<rect x="978" y="254.2" width="396" height="350.6"/>
<line x1="978" y1="312.6" x2="981" y2="312.6"/>
<line x1="978" y1="371.1" x2="983" y2="371.1"/>
<line x1="978" y1="429.5" x2="981" y2="429.5"/>
<line x1="978" y1="487.9" x2="983" y2="487.9"/>
<line x1="978" y1="546.4" x2="981" y2="546.4"/>
<line x1="978" y1="604.8" x2="978" y2="609.8"/>
<line x1="1077" y1="604.8" x2="1077" y2="609.8"/>
<line x1="1176" y1="604.8" x2="1176" y2="609.8"/>
<line x1="1275" y1="604.8" x2="1275" y2="609.8"/>
<line x1="1374" y1="604.8" x2="1374" y2="609.8"/>
</g>
<text x="971" y="263.2" font-size="25" text-anchor="end">6</text>
<text x="971" y="380.1" font-size="25" text-anchor="end">4</text>
<text x="971" y="496.9" font-size="25" text-anchor="end">2</text>
<text x="971" y="613.8" font-size="25" text-anchor="end">0</text>
<text x="978" y="631.8" font-size="25" text-anchor="middle">1k</text>
<text x="1077" y="631.8" font-size="25" text-anchor="middle">10k</text>
<text x="1176" y="631.8" font-size="25" text-anchor="middle">100k</text>
<text x="1275" y="631.8" font-size="25" text-anchor="middle">1M</text>
<text x="1374" y="631.8" font-size="25" text-anchor="middle">10M</text>
<text x="1177" y="667" font-size="25" text-anchor="middle"><tspan font-style="italic">f</tspan> (Hz)</text>
<text transform="translate(938,428) rotate(-90)" font-size="25" text-anchor="middle"><tspan font-style="italic">V</tspan><tspan font-size="16" dy="4">OUT</tspan><tspan dy="-4"> (V)</tspan></text>
<line x1="991" y1="271" x2="1030" y2="271" stroke="#000" stroke-width="2"/>
<line x1="991" y1="292" x2="1030" y2="292" stroke="#a32a22" stroke-width="2"/>
<text x="1037" y="277.5" font-size="21">Original</text>
<text x="1037" y="298.8" font-size="21">After 7 days</text>
<g stroke="#000" stroke-width="1.5" fill="none">
<path d="M1026.6,524.5 V504.7 H1058 M1073,504.7 H1209 M1026.6,549.5 V588.7 M1026.6,569 H1209"/>
<circle cx="1026.6" cy="537" r="12.5"/>
<path d="M1019,537 q3.7,-9 7.6,0 q3.7,9 7.6,0"/>
<path d="M1104,504.7 V533 M1104,540 V569 M1090,533 H1118 M1090,540 H1118"/>
<path d="M1162,504.7 V517 l6,2.5 l-12,5 l12,5 l-12,5 l12,5 l-12,5 l6,2.5 V569"/>
<line x1="1073" y1="496" x2="1073" y2="513.5"/>
<path d="M1013,584.7 H1040 M1017,588.7 H1036 M1021,592.7 H1032 M1024.5,596.6 H1028.5"/>
<circle cx="1213" cy="504.7" r="4" fill="#fff"/><circle cx="1213" cy="569" r="4" fill="#fff"/>
</g>
<path d="M1058,495.5 L1073,504.7 L1058,514 Z" fill="#000"/>
<text x="1012" y="522" font-size="20" text-anchor="middle">+</text>
<text x="1016" y="567" font-size="20" text-anchor="middle">-</text>
<text x="987" y="545" font-size="21"><tspan font-style="italic">V</tspan><tspan font-size="14" dy="4">in</tspan></text>
<text x="1122" y="545" font-size="21"><tspan font-style="italic">C</tspan><tspan font-size="14" dy="4">L</tspan></text>
<text x="1173" y="545" font-size="21"><tspan font-style="italic">R</tspan><tspan font-size="14" dy="4">L</tspan></text>
<text x="1204" y="545" font-size="21"><tspan font-style="italic">V</tspan><tspan font-size="14" dy="4">out</tspan></text>
<text x="1221" y="524" font-size="20" text-anchor="middle">+</text>
<text x="1221" y="570" font-size="20" text-anchor="middle">-</text>
</g>
<g id="h">
<path d="M559,988.6 C563.3,989.2 576.7,990.9 585,992 C593.3,993.1 600.4,994.3 608.7,995.3 C617,996.3 626,996.9 635,998 C644,999.1 653.9,1000.4 662.5,1002 C671.1,1003.6 680.5,1006.1 686.7,1007.4 C693,1008.7 696.4,1008.9 700,1010 C703.6,1011.1 705.7,1011.5 708.2,1014 C710.7,1016.5 712.8,1020.7 715,1025 C717.2,1029.3 719.6,1043.8 721.6,1039.6 C723.6,1035.4 725.2,1017 727,1000 C728.8,983 730.7,953.3 732.4,937.5 C734.1,921.7 735.2,914.6 737,905 C738.8,895.4 740.8,887.2 743,880 C745.2,872.8 747.7,867 750,862 C752.3,857 753.8,855 756.8,850 C759.8,845 763.9,837.3 768,832 C772.1,826.7 773.6,824.2 781.3,818 C789,811.8 800.3,802.2 814,795 C827.7,787.8 855.2,777.9 863.5,774.5" fill="none" stroke="#8ea6c8" stroke-width="1.8"/>
<path d="M559,903.4 C563.3,904.3 576.7,907.1 585,909 C593.3,910.9 600.4,912.5 608.7,914.7 C617,916.9 626,919.1 635,922 C644,924.9 653.4,928.1 662.5,932 C671.6,935.9 683.1,941.8 689.4,945.6 C695.6,949.4 697.3,951.9 700,955 C702.7,958.1 704,958.6 705.5,964.4 C707,970.2 707.9,980.6 709,990 C710.1,999.4 711.3,1022.5 712.2,1020.8 C713.1,1019.1 713.8,992.5 714.5,980 C715.2,967.5 715.3,954.8 716.2,945.6 C717.1,936.4 718.2,931.3 720,925 C721.8,918.7 724.5,914.7 727,908 C729.5,901.3 732.3,892 735,885 C737.7,878 739.4,873.2 743,866 C746.6,858.8 752.6,848.2 756.8,842 C761,835.8 763.9,833.2 768,829 C772.1,824.8 773.6,822.6 781.3,817 C789,811.4 800.3,802.4 814,795.5 C827.7,788.6 855.2,778.8 863.5,775.5" fill="none" stroke="#b54552" stroke-width="1.8"/>
<path d="M559,947.4 C563.3,948.3 576.7,951.1 585,953 C593.3,954.9 600.4,956.3 608.7,959 C617,961.7 626,965.4 635,969 C644,972.6 654.3,976.3 662.5,980.5 C670.7,984.7 678.6,990 684,994 C689.4,998 692,1003 694.7,1004.7 C697.4,1006.4 698.2,1003.5 700,1004 C701.8,1004.5 704,1005.1 705.5,1007.4 C707,1009.7 708,1014.4 709,1018 C710,1021.6 710.6,1029.4 711.4,1028.9 C712.2,1028.4 713.2,1019.5 714,1015 C714.8,1010.5 714.9,1006.2 716.2,1002 C717.5,997.8 720.2,995.4 722,990 C723.8,984.6 725.3,977.2 727,969.7 C728.7,962.2 730.2,954.9 732,945 C733.8,935.1 735.5,927.3 737.7,910.6 C739.9,893.9 742.5,861.8 745,845 C747.5,828.2 750.7,818.7 752.7,810 C754.7,801.3 755.3,798.2 757,793 C758.7,787.8 760.5,783.7 763,779 C765.5,774.3 769,768.7 772,765 C775,761.3 777.5,759.7 781.3,757 C785.1,754.3 789.5,751.5 795,749 C800.5,746.5 802.6,746 814,741.7 C825.4,737.4 855.2,726.1 863.5,723" fill="none" stroke="#000" stroke-width="1.8"/>
<g stroke="#000" stroke-width="1.4" fill="none">
<rect x="558.5" y="700.4" width="306" height="363.6"/>
<line x1="558.5" y1="736.8" x2="561.5" y2="736.8"/>
<line x1="558.5" y1="773.1" x2="563.5" y2="773.1"/>
<line x1="558.5" y1="809.5" x2="561.5" y2="809.5"/>
<line x1="558.5" y1="845.8" x2="563.5" y2="845.8"/>
<line x1="558.5" y1="882.2" x2="561.5" y2="882.2"/>
<line x1="558.5" y1="918.6" x2="563.5" y2="918.6"/>
<line x1="558.5" y1="954.9" x2="561.5" y2="954.9"/>
<line x1="558.5" y1="991.3" x2="563.5" y2="991.3"/>
<line x1="558.5" y1="1027.6" x2="561.5" y2="1027.6"/>
<line x1="558.5" y1="1064" x2="558.5" y2="1069"/>
<line x1="609.5" y1="1064" x2="609.5" y2="1069"/>
<line x1="660.5" y1="1064" x2="660.5" y2="1069"/>
<line x1="711.5" y1="1064" x2="711.5" y2="1069"/>
<line x1="762.5" y1="1064" x2="762.5" y2="1069"/>
<line x1="813.5" y1="1064" x2="813.5" y2="1069"/>
<line x1="864.5" y1="1064" x2="864.5" y2="1069"/>
</g>
<text x="554.5" y="709.4" font-size="25" text-anchor="end">10<tspan font-size="16" dy="-10.5">0</tspan></text>
<text x="554.5" y="782.1" font-size="25" text-anchor="end">10<tspan font-size="16" dy="-10.5">-2</tspan></text>
<text x="554.5" y="854.8" font-size="25" text-anchor="end">10<tspan font-size="16" dy="-10.5">-4</tspan></text>
<text x="554.5" y="927.6" font-size="25" text-anchor="end">10<tspan font-size="16" dy="-10.5">-6</tspan></text>
<text x="554.5" y="1000.3" font-size="25" text-anchor="end">10<tspan font-size="16" dy="-10.5">-8</tspan></text>
<text x="554.5" y="1073" font-size="25" text-anchor="end">10<tspan font-size="16" dy="-10.5">-10</tspan></text>
<text x="557.5" y="1091" font-size="25" text-anchor="middle">-3</text>
<text x="608.5" y="1091" font-size="25" text-anchor="middle">-2</text>
<text x="659.5" y="1091" font-size="25" text-anchor="middle">-1</text>
<text x="710.5" y="1091" font-size="25" text-anchor="middle">0</text>
<text x="761.5" y="1091" font-size="25" text-anchor="middle">1</text>
<text x="812.5" y="1091" font-size="25" text-anchor="middle">2</text>
<text x="863.5" y="1091" font-size="25" text-anchor="middle">3</text>
<text x="713.5" y="1127" font-size="25" text-anchor="middle"><tspan font-style="italic">V</tspan><tspan font-size="16" dy="4">D</tspan><tspan dy="-4"> (V)</tspan></text>
<text x="567" y="725" font-size="21">After Al evaporation</text>
<line x1="565.6" y1="748.5" x2="592.6" y2="748.5" stroke="#000" stroke-width="2"/>
<line x1="565.6" y1="776.9" x2="592.6" y2="776.9" stroke="#8ea6c8" stroke-width="2"/>
<line x1="565.6" y1="804.6" x2="592.6" y2="804.6" stroke="#b54552" stroke-width="2"/>
<text x="599.7" y="754.6" font-size="21">0 hour</text>
<text x="599.7" y="782.3" font-size="21">28 hour (inert)</text>
<text x="599.7" y="810.7" font-size="21">28 hour (ambient)</text>
<text transform="translate(492,876) rotate(-90)" font-size="25" text-anchor="middle"><tspan font-style="italic">J</tspan><tspan font-size="16" dy="4">D</tspan><tspan dy="-4"> (A·cm</tspan><tspan font-size="16" dy="-10">-2</tspan><tspan dy="10">)</tspan></text>
</g>
<g id="i">
<g stroke="#000" stroke-width="1.4" fill="none">
<rect x="977.5" y="700" width="397.8" height="365"/>
<line x1="977.5" y1="882.4" x2="1375.3" y2="882.4"/>
<line x1="977.5" y1="864.2" x2="982.5" y2="864.2"/>
<line x1="977.5" y1="827.9" x2="980.5" y2="827.9"/>
<line x1="977.5" y1="791.5" x2="982.5" y2="791.5"/>
<line x1="977.5" y1="755.2" x2="980.5" y2="755.2"/>
<line x1="977.5" y1="718.8" x2="982.5" y2="718.8"/>
<line x1="977.5" y1="899.2" x2="982.5" y2="899.2"/>
<line x1="977.5" y1="948.8" x2="982.5" y2="948.8"/>
<line x1="977.5" y1="998.4" x2="982.5" y2="998.4"/>
<line x1="977.5" y1="1048" x2="982.5" y2="1048"/>
<line x1="1017.3" y1="876.4" x2="1017.3" y2="886.4"/>
<line x1="1057.1" y1="876.4" x2="1057.1" y2="886.4"/>
<line x1="1096.8" y1="876.4" x2="1096.8" y2="886.4"/>
<line x1="1136.6" y1="876.4" x2="1136.6" y2="886.4"/>
<line x1="1176.4" y1="876.4" x2="1176.4" y2="886.4"/>
<line x1="1216.2" y1="876.4" x2="1216.2" y2="886.4"/>
<line x1="1256" y1="876.4" x2="1256" y2="886.4"/>
<line x1="1295.7" y1="876.4" x2="1295.7" y2="886.4"/>
<line x1="1335.5" y1="876.4" x2="1335.5" y2="886.4"/>
<line x1="977.5" y1="1065" x2="977.5" y2="1070"/>
<line x1="1017.3" y1="1065" x2="1017.3" y2="1068"/>
<line x1="1057.1" y1="1065" x2="1057.1" y2="1070"/>
<line x1="1096.8" y1="1065" x2="1096.8" y2="1068"/>
<line x1="1136.6" y1="1065" x2="1136.6" y2="1070"/>
<line x1="1176.4" y1="1065" x2="1176.4" y2="1068"/>
<line x1="1216.2" y1="1065" x2="1216.2" y2="1070"/>
<line x1="1256" y1="1065" x2="1256" y2="1068"/>
<line x1="1295.7" y1="1065" x2="1295.7" y2="1070"/>
<line x1="1335.5" y1="1065" x2="1335.5" y2="1068"/>
<line x1="1375.3" y1="1065" x2="1375.3" y2="1070"/>
</g>
<text x="971" y="873.2" font-size="25" text-anchor="end">0</text>
<text x="971" y="800.5" font-size="25" text-anchor="end">100</text>
<text x="971" y="727.8" font-size="25" text-anchor="end">200</text>
<text x="971" y="908.2" font-size="25" text-anchor="end">0</text>
<text x="971" y="957.8" font-size="25" text-anchor="end">-15</text>
<text x="971" y="1007.4" font-size="25" text-anchor="end">-30</text>
<text x="971" y="1057" font-size="25" text-anchor="end">-45</text>
<text x="977.5" y="1095" font-size="25" text-anchor="middle">0</text>
<text x="1057.1" y="1095" font-size="25" text-anchor="middle">40</text>
<text x="1136.6" y="1095" font-size="25" text-anchor="middle">80</text>
<text x="1216.2" y="1095" font-size="25" text-anchor="middle">120</text>
<text x="1295.7" y="1095" font-size="25" text-anchor="middle">160</text>
<text x="1375.3" y="1095" font-size="25" text-anchor="middle">200</text>
<text x="1178.5" y="1127" font-size="25" text-anchor="middle">Time (h)</text>
<text transform="translate(917,793) rotate(-90)" font-size="25" text-anchor="middle"><tspan font-style="italic">J</tspan><tspan font-size="16" dy="4">F</tspan><tspan dy="-4"> (mA·cm</tspan><tspan font-size="16" dy="-10">-2</tspan><tspan dy="10">)</tspan></text>
<text transform="translate(917,975.5) rotate(-90)" font-size="25" text-anchor="middle"><tspan font-style="italic">J</tspan><tspan font-size="16" dy="4">R</tspan><tspan dy="-4"> (μA·cm</tspan><tspan font-size="16" dy="-10">-2</tspan><tspan dy="10">)</tspan></text>
<text x="1006" y="724.6" font-size="21">Al evap. after <tspan font-style="italic">N</tspan> days of OSC printing</text>
<text x="1367" y="1052" font-size="21" text-anchor="end" fill="#333">n=5</text>
<path d="M979.1,744.4 V748.4 M975.1,744.4 H983.1 M975.1,748.4 H983.1" stroke="#000" stroke-width="1.3" fill="none"/><rect x="974.1" y="741.4" width="10" height="10" fill="#000"/>
<path d="M981.5,787.2 V800.2 M977.5,787.2 H985.5 M977.5,800.2 H985.5" stroke="#000" stroke-width="1.3" fill="none"/><rect x="976.5" y="788.7" width="10" height="10" fill="#000"/>
<rect x="980.5" y="803.9" width="10" height="10" fill="#000"/>
<path d="M1001.4,830.5 V845.5 M997.4,830.5 H1005.4 M997.4,845.5 H1005.4" stroke="#000" stroke-width="1.3" fill="none"/><rect x="996.4" y="833" width="10" height="10" fill="#000"/>
<rect x="1020.2" y="837.4" width="10" height="10" fill="#000"/>
<rect x="1068" y="839.6" width="10" height="10" fill="#000"/>
<rect x="1163.4" y="843.2" width="10" height="10" fill="#000"/>
<path d="M1073,743 V760 M1069,743 H1077 M1069,760 H1077" stroke="#c8444f" stroke-width="1.3" fill="none"/><circle cx="1073" cy="751.5" r="5.5" fill="#c8444f"/>
<path d="M1077,787 V796 M1073,787 H1081 M1073,796 H1081" stroke="#c8444f" stroke-width="1.3" fill="none"/><circle cx="1077" cy="791.5" r="5.5" fill="#c8444f"/>
<circle cx="1080.9" cy="808.2" r="5.5" fill="#c8444f"/>
<circle cx="1096.8" cy="830" r="5.5" fill="#c8444f"/>
<circle cx="1120.7" cy="832.2" r="5.5" fill="#c8444f"/>
<circle cx="1182.4" cy="838" r="5.5" fill="#c8444f"/>
<circle cx="1263.9" cy="842.4" r="5.5" fill="#c8444f"/>
<path d="M1168.4,737.4 V754 M1164.4,737.4 H1172.4 M1164.4,754 H1172.4" stroke="#8fa6cc" stroke-width="1.3" fill="none"/><path d="M1168.4,739.2 L1174.9,750.7 L1161.9,750.7 Z" fill="#8fa6cc"/>
<path d="M1172.4,775.3 V787.3 M1168.4,775.3 H1176.4 M1168.4,787.3 H1176.4" stroke="#8fa6cc" stroke-width="1.3" fill="none"/><path d="M1172.4,774.8 L1178.9,786.3 L1165.9,786.3 Z" fill="#8fa6cc"/>
<path d="M1176.4,793.3 V804.3 M1172.4,793.3 H1180.4 M1172.4,804.3 H1180.4" stroke="#8fa6cc" stroke-width="1.3" fill="none"/><path d="M1176.4,792.3 L1182.9,803.8 L1169.9,803.8 Z" fill="#8fa6cc"/>
<path d="M1192.3,818 V824 M1188.3,818 H1196.3 M1188.3,824 H1196.3" stroke="#8fa6cc" stroke-width="1.3" fill="none"/><path d="M1192.3,814.5 L1198.8,826 L1185.8,826 Z" fill="#8fa6cc"/>
<path d="M1216.2,824.5 L1222.7,836 L1209.7,836 Z" fill="#8fa6cc"/>
<path d="M1263.9,829.9 V835.9 M1259.9,829.9 H1267.9 M1259.9,835.9 H1267.9" stroke="#8fa6cc" stroke-width="1.3" fill="none"/><path d="M1263.9,826.4 L1270.4,837.9 L1257.4,837.9 Z" fill="#8fa6cc"/>
<path d="M1359.4,830.5 L1365.9,842 L1352.9,842 Z" fill="#8fa6cc"/>
<rect x="973.1" y="896.2" width="10" height="10" fill="#000"/>
<rect x="975.3" y="897.7" width="10" height="10" fill="#000"/>
<rect x="977.7" y="900.2" width="10" height="10" fill="#000"/>
<rect x="980.1" y="901.8" width="10" height="10" fill="#000"/>
<rect x="996" y="916" width="10" height="10" fill="#000"/>
<path d="M1024.6,926.1 V951.1 M1020.6,926.1 H1028.6 M1020.6,951.1 H1028.6" stroke="#000" stroke-width="1.3" fill="none"/><rect x="1019.6" y="933.6" width="10" height="10" fill="#000"/>
<path d="M1073,954.2 V969.2 M1069,954.2 H1077 M1069,969.2 H1077" stroke="#000" stroke-width="1.3" fill="none"/><rect x="1068" y="956.7" width="10" height="10" fill="#000"/>
<path d="M1169,1012.7 V1035.7 M1165,1012.7 H1173 M1165,1035.7 H1173" stroke="#000" stroke-width="1.3" fill="none"/><rect x="1164" y="1019.2" width="10" height="10" fill="#000"/>
<circle cx="1073.6" cy="902.7" r="5.5" fill="#c8444f"/>
<circle cx="1077" cy="902.7" r="5.5" fill="#c8444f"/>
<circle cx="1080.9" cy="903.8" r="5.5" fill="#c8444f"/>
<circle cx="1096.8" cy="908.5" r="5.5" fill="#c8444f"/>
<path d="M1120.7,911.7 V919.7 M1116.7,911.7 H1124.7 M1116.7,919.7 H1124.7" stroke="#c8444f" stroke-width="1.3" fill="none"/><circle cx="1120.7" cy="915.7" r="5.5" fill="#c8444f"/>
<path d="M1182.4,931.2 V953.2 M1178.4,931.2 H1186.4 M1178.4,953.2 H1186.4" stroke="#c8444f" stroke-width="1.3" fill="none"/><circle cx="1182.4" cy="942.2" r="5.5" fill="#c8444f"/>
<path d="M1263.9,979.9 V1006.9 M1259.9,979.9 H1267.9 M1259.9,1006.9 H1267.9" stroke="#c8444f" stroke-width="1.3" fill="none"/><circle cx="1263.9" cy="993.4" r="5.5" fill="#c8444f"/>
<path d="M1167.1,899.7 V905.7 M1163.1,899.7 H1171.1 M1163.1,905.7 H1171.1" stroke="#8fa6cc" stroke-width="1.3" fill="none"/><path d="M1167.1,896.2 L1173.6,907.7 L1160.6,907.7 Z" fill="#8fa6cc"/>
<path d="M1172.4,899.7 V905.7 M1168.4,899.7 H1176.4 M1168.4,905.7 H1176.4" stroke="#8fa6cc" stroke-width="1.3" fill="none"/><path d="M1172.4,896.2 L1178.9,907.7 L1165.9,907.7 Z" fill="#8fa6cc"/>
<path d="M1176.4,900.2 V906.2 M1172.4,900.2 H1180.4 M1172.4,906.2 H1180.4" stroke="#8fa6cc" stroke-width="1.3" fill="none"/><path d="M1176.4,896.7 L1182.9,908.2 L1169.9,908.2 Z" fill="#8fa6cc"/>
<path d="M1191.7,897.3 V910.3 M1187.7,897.3 H1195.7 M1187.7,910.3 H1195.7" stroke="#8fa6cc" stroke-width="1.3" fill="none"/><path d="M1191.7,897.3 L1198.2,908.8 L1185.2,908.8 Z" fill="#8fa6cc"/>
<path d="M1216.2,901.6 V922.6 M1212.2,901.6 H1220.2 M1212.2,922.6 H1220.2" stroke="#8fa6cc" stroke-width="1.3" fill="none"/><path d="M1216.2,905.6 L1222.7,917.1 L1209.7,917.1 Z" fill="#8fa6cc"/>
<path d="M1263.5,924.9 V954.9 M1259.5,924.9 H1267.5 M1259.5,954.9 H1267.5" stroke="#8fa6cc" stroke-width="1.3" fill="none"/><path d="M1263.5,933.4 L1270,944.9 L1257,944.9 Z" fill="#8fa6cc"/>
<path d="M1359.4,978.1 V1012.1 M1355.4,978.1 H1363.4 M1355.4,1012.1 H1363.4" stroke="#8fa6cc" stroke-width="1.3" fill="none"/><path d="M1359.4,988.6 L1365.9,1000.1 L1352.9,1000.1 Z" fill="#8fa6cc"/>
<rect x="1266" y="740.6" width="9" height="9" fill="#000"/>
<circle cx="1270.4" cy="770" r="5" fill="#c8444f"/>
<path d="M1270.4,788 L1276.5,798.5 L1264.3,798.5 Z" fill="#8fa6cc"/>
<text x="1292" y="751" font-size="21">0 days</text>
<text x="1292" y="776" font-size="21">2 days</text>
<text x="1292" y="801" font-size="21">4 days</text>
</g>
<defs><filter id="wmsh" x="-20%" y="-20%" width="140%" height="140%"><feGaussianBlur in="SourceAlpha" stdDeviation="2" result="b"/><feOffset in="b" dx="0.8" dy="1.2" result="ob"/><feFlood flood-color="#000" flood-opacity="0.6"/><feComposite in2="ob" operator="in" result="sh"/><feMerge><feMergeNode in="sh"/><feMergeNode in="SourceGraphic"/></feMerge></filter></defs>
<g id="wm" fill="#ffffff" fill-opacity="0.3" filter="url(#wmsh)">
<polygon points="1029.3,1000.2 1047.4,1000.2 1038.7,1033.2 1098.4,1034.8 1095.3,1044.2 1030,1044.2 1021.4,1037"/>
<polygon points="1004.1,1056 1099.2,1056 1096.9,1064.6 1001,1064.6"/>
<polygon points="1018.3,1066.2 1039.5,1066.2 1029.3,1102.4 1012.8,1102.4"/>
<polygon points="1053.6,1066.2 1074.9,1066.2 1064.6,1102.4 1047.4,1102.4"/>
<path d="M1164.4,1001 L1178.6,1001 C1176,1020 1172,1034 1176,1040 C1182,1046 1192,1048 1197.4,1051.3 L1191.1,1056.8 C1180,1054 1168,1050 1162.8,1045 C1150,1052 1132,1056 1120.4,1056.8 L1115.7,1052 C1135,1046 1152,1036 1158,1024 Z"/>
<polygon points="1101.6,1078.8 1193.5,1078.8 1191.1,1087.4 1099.2,1087.4"/>
<path fill-rule="evenodd" d="M1270,979 L1362,977 C1378,977 1382,990 1379,1006 L1360,1090 C1356,1106 1340,1114 1320,1114 L1248,1114 C1226,1114 1216,1106 1220,1092 L1230,1050 L1254,1034 L1240,1096 L1266,1096 L1294,1001 L1268,1001 C1258,1008 1248,1014 1240,1016 C1244,1000 1254,984 1270,979 Z"/>
</g>
<text x="22" y="21.5" font-size="27" font-weight="bold">a</text>
<text x="34.5" y="915" font-size="27" font-weight="bold">b</text>
<text x="256" y="914.6" font-size="27" font-weight="bold">c</text>
<text x="532" y="22.1" font-size="27" font-weight="bold">d</text>
<text x="909.6" y="21.9" font-size="27" font-weight="bold">e</text>
<text x="480.5" y="257.7" font-size="27" font-weight="bold">f</text>
<text x="889" y="260.2" font-size="27" font-weight="bold">g</text>
<text x="476.6" y="695.5" font-size="27" font-weight="bold">h</text>
<text x="893.7" y="690.5" font-size="27" font-weight="bold">i</text>
</svg>
</body></html>
